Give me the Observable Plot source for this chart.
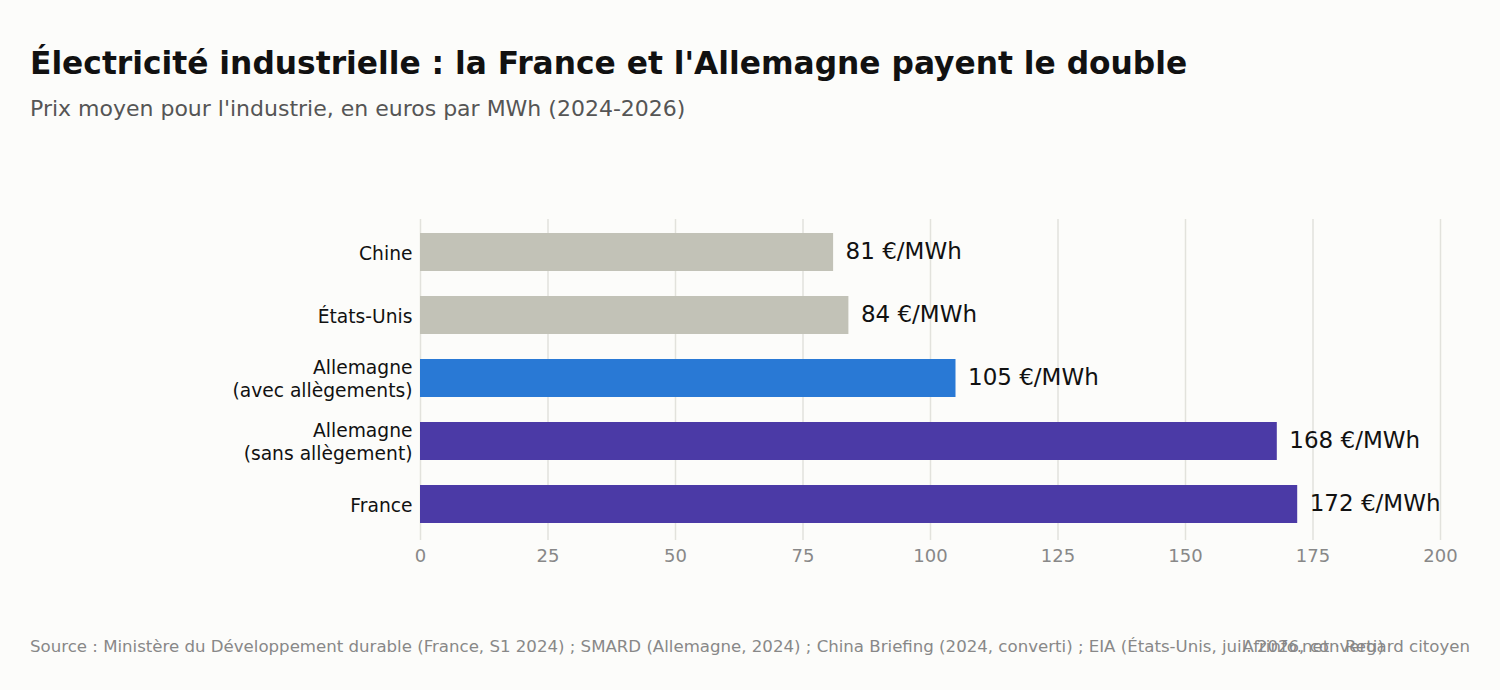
<!DOCTYPE html>
<html>
<head>
<meta charset="utf-8">
<script src="https://cdn.jsdelivr.net/npm/d3@7"></script>
<script src="https://cdn.jsdelivr.net/npm/@observablehq/plot@0.6"></script>
<style>
  html, body { margin: 0; padding: 0; background: #fcfcfa; width: 1500px; height: 690px; overflow: hidden; font-family: "DejaVu Sans", sans-serif; }
  #title { position: absolute; left: 30px; top: 45px; font-size: 31.3px; font-weight: bold; color: #111; white-space: nowrap; }
  #subtitle { position: absolute; left: 30px; top: 96px; font-size: 22px; color: #555; white-space: nowrap; }
  #chart { position: absolute; left: 0; top: 150px; }
  .foot { position: absolute; top: 637px; font-size: 16.6px; color: #888; white-space: nowrap; }
  #source { left: 30px; }
  #credit { right: 30px; }
</style>
</head>
<body>
<div id="title">Électricité industrielle : la France et l'Allemagne payent le double</div>
<div id="subtitle">Prix moyen pour l'industrie, en euros par MWh (2024-2026)</div>
<div id="chart"></div>
<div class="foot" id="source">Source : Ministère du Développement durable (France, S1 2024) ; SMARD (Allemagne, 2024) ; China Briefing (2024, converti) ; EIA (États-Unis, juil. 2026, converti)</div>
<div class="foot" id="credit">Afrinfo.net · Regard citoyen</div>
<script>
const categories = ["Chine", "États-Unis", "Allemagne\n(avec allègements)", "Allemagne\n(sans allègement)", "France"];
const values = [81, 84, 105, 168, 172];
const colors = ["#c2c2b7", "#c2c2b7", "#2979d5", "#4b3aa6", "#4b3aa6"];
const xTicks = [0, 25, 50, 75, 100, 125, 150, 175, 200];
const unit = " €/MWh";

const data = categories.map((c, i) => ({ cat: c, value: values[i], color: colors[i] }));

const chart = Plot.plot({
  width: 1500,
  height: 430,
  marginLeft: 420,
  marginRight: 60,
  marginTop: 69,
  marginBottom: 40,
  style: { background: "transparent", fontFamily: "DejaVu Sans, sans-serif" },
  x: { domain: [0, 200], ticks: xTicks },
  y: { domain: categories, paddingInner: 0.4, paddingOuter: 0.24, align: 0.45 },
  marks: [
    Plot.gridX(xTicks, { stroke: "#e2e2dc", strokeOpacity: 1, strokeWidth: 1.5 }),
    Plot.barX(data, { x: "value", y: "cat", fill: "color" }),
    Plot.text(data, { x: "value", y: "cat", text: d => d.value + unit, dx: 12, dy: -1, textAnchor: "start", fontSize: 23, fill: "#111" }),
    Plot.axisX(xTicks, { tickSize: 0, tickPadding: 9, fontSize: 18, color: "#888", label: null }),
    Plot.axisY({ tickSize: 0, tickPadding: 8, fontSize: 18.7, color: "#111", label: null, lineHeight: 1.22 })
  ]
});
document.getElementById("chart").appendChild(chart);
</script>
</body>
</html>
